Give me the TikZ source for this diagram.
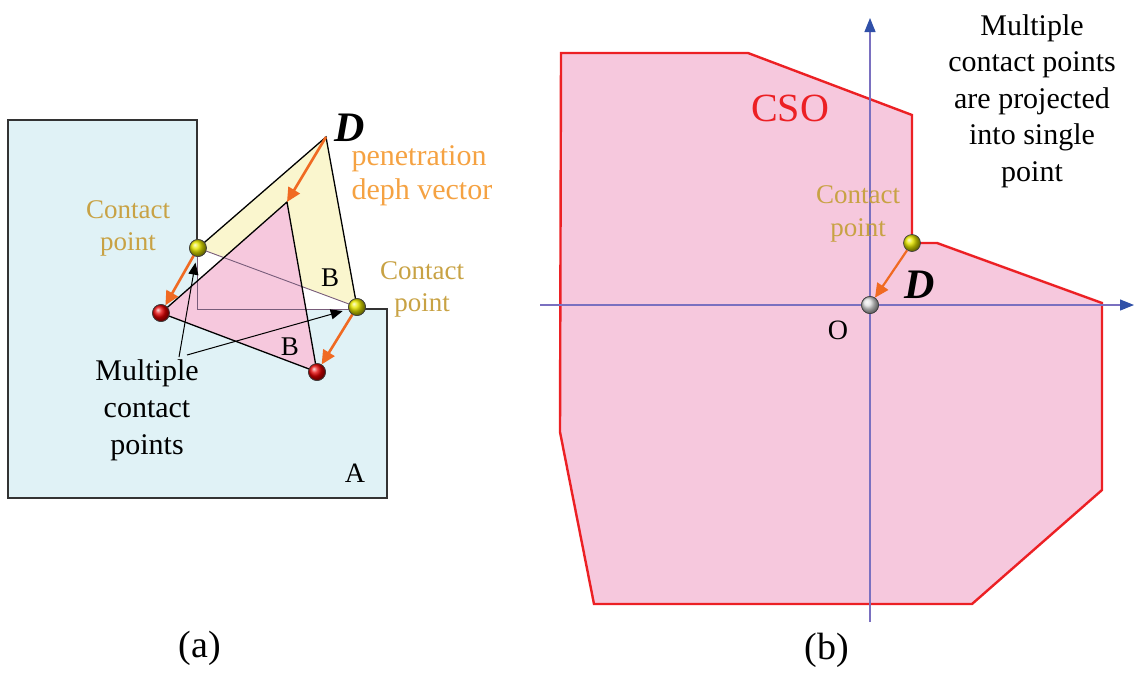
\documentclass[tikz,border=0pt]{standalone}
\usepackage{fontspec}
\setmainfont{Liberation Serif}
\usetikzlibrary{arrows.meta}
\definecolor{paleCyan}{RGB}{224,242,246}
\definecolor{paleYellow}{RGB}{250,246,206}
\definecolor{paleRose}{RGB}{246,200,221}
\definecolor{csoRed}{RGB}{236,32,36}
\definecolor{vecOrange}{RGB}{240,106,34}
\definecolor{penOrange}{RGB}{245,162,66}
\definecolor{cpGold}{RGB}{200,162,68}
\definecolor{axisLine}{RGB}{122,112,192}
\definecolor{axisTip}{RGB}{48,80,168}
\definecolor{notchGrey}{RGB}{120,92,122}

\begin{document}
\begin{tikzpicture}[
    x=1pt,y=-1pt,
    ball/.style={circle,inner sep=0pt,minimum size=17pt,draw=black!75,line width=0.7pt},
    cpball/.style={ball,ball color=yellow!80!olive},
    hitball/.style={ball,ball color=red!90!black},
    origball/.style={ball,ball color=white!75!gray},
    pen/.style={-{Triangle[length=14pt,width=13pt]},line width=2.6pt,vecOrange},
    pointer/.style={-{Triangle[length=12pt,width=10pt]},line width=1pt,black,shorten >=6pt},
    edge/.style={line width=1.3pt,black},
    axis/.style={-{Triangle[length=14pt,width=11pt,color=axisTip]},line width=1.2pt,axisLine},
    lbl/.style={font=\fontsize{30}{37}\selectfont,align=center},
    cplbl/.style={font=\fontsize{27}{32}\selectfont,align=center,text=cpGold},
    vec/.style={font=\fontsize{42}{42}\selectfont\bfseries\itshape,inner sep=1pt}
  ]
    \useasboundingbox (0,0) rectangle (1134,673);

    % (a) body A and the two copies of B
    \fill[paleCyan] (8,120) -- (197,120) -- (197,309) -- (387,309) -- (387,498) -- (8,498) -- cycle;
    \draw[line width=1.2pt,black!80] (197,248) -- (197,120) -- (8,120) -- (8,498) -- (387,498) -- (387,309) -- (356,309);
    \coordinate (Dtip) at (326,137);
    \coordinate (pkTop) at (287,202);
    \node[cpball] (cpL) at (198,248) {};
    \node[cpball] (cpR) at (357,307) {};
    \node[hitball] (rdL) at (161,313) {};
    \node[hitball] (rdR) at (317,372) {};
    \fill[paleYellow] (Dtip) -- (cpL.center) -- (cpR.center) -- cycle;
    \fill[paleRose] (pkTop) -- (rdL.center) -- (rdR.center) -- cycle;
    \draw[line width=0.9pt,notchGrey] (197,248) -- (197,309) -- (356,309);
    \draw[line width=0.9pt,notchGrey] (cpL.center) -- (cpR.center);
    \draw[edge] (cpL.center) -- (Dtip) -- (cpR.center);
    \draw[edge] (pkTop) -- (rdL.center) -- (rdR.center) -- cycle;
    \coordinate (mA) at (179,357);
    \coordinate (mB) at (187,355);
    \draw[pointer] (mA) -- (cpL);
    \draw[pointer] (mB) -- (cpR);
    \draw[pen] (Dtip) -- (pkTop);
    \draw[pen] (cpL) -- (rdL);
    \draw[pen] (cpR) -- (rdR);
    \node[cpball] at (cpL) {};
    \node[cpball] at (cpR) {};
    \node[hitball] at (rdL) {};
    \node[hitball] at (rdR) {};

    \node[vec] (dA) at (350,128) {D};
    \node[lbl,text=penOrange,align=left,anchor=west,font=\fontsize{30}{34}\selectfont] (penlbl) at (348,176) {penetration\\deph vector};
    \node[cplbl] (cpLlbl) at (128,228) {Contact\\point};
    \node[cplbl] (cpRlbl) at (422,289) {Contact\\point};
    \node[lbl,font=\fontsize{27}{32}\selectfont] (bUp) at (330,278) {B};
    \node[lbl,font=\fontsize{27}{32}\selectfont] (bDown) at (290,347) {B};
    \node[lbl] (multi) at (147,410) {Multiple\\contact\\points};
    \node[lbl,font=\fontsize{28}{32}\selectfont] (aLbl) at (355,473) {A};
    \node[lbl,font=\fontsize{38}{40}\selectfont] (capA) at (200,648) {(a)};

    % (b) configuration space obstacle
    \fill[paleRose,draw=csoRed,line width=2.4pt,line join=miter]
      (561,53) -- (748,53) -- (912,115) -- (912,243) -- (937,243) -- (1102,303)
      -- (1102,490) -- (972,604) -- (594,604) -- (560,432) -- cycle;
    \coordinate (xS) at (540,305);
    \coordinate (xE) at (1134,305);
    \coordinate (yS) at (870,622);
    \coordinate (yE) at (870,18);
    \draw[axis] (xS) -- (xE);
    \draw[axis] (yS) -- (yE);
    \node[origball] (orig) at (870,305) {};
    \node[cpball] (cpB) at (912,243) {};
    \draw[pen,line width=2.2pt] (cpB) -- (orig);
    \node[origball] at (orig) {};

    \node[lbl,text=csoRed,font=\fontsize{40}{42}\selectfont] (cso) at (790,108) {CSO};
    \node[lbl,font=\fontsize{30}{36.5}\selectfont] (proj) at (1032,101) {Multiple\\contact points\\are projected\\into single\\point};
    \node[cplbl,font=\fontsize{27}{33}\selectfont] (cpBlbl) at (858,214) {Contact\\point};
    \node[vec] (dB) at (920,285) {D};
    \node[lbl,font=\fontsize{28}{32}\selectfont] (oLbl) at (838,330) {O};
    \node[lbl,font=\fontsize{38}{40}\selectfont] (capB) at (827,650) {(b)};
  \end{tikzpicture}
\end{document}
